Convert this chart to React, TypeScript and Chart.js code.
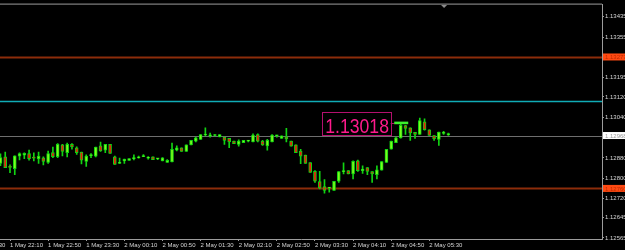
import React, { useEffect, useRef } from 'react';
import { Chart, registerables } from 'chart.js';

Chart.register(...registerables);

// M5 candles, bar index 0 = 1 May 22:10 (one bar every 5 minutes)
const firstBarIndex = -2;

const opens = [
  1.12858, 1.12884, 1.12845, 1.12838, 1.12887, 1.12891, 1.12897, 1.12883, 1.12876, 1.12880,
  1.12862, 1.12901, 1.12885, 1.12931, 1.12901, 1.12933, 1.12920, 1.12903, 1.12866, 1.12889,
  1.12887, 1.12927, 1.12910, 1.12933, 1.12884, 1.12858, 1.12868, 1.12870, 1.12877, 1.12880,
  1.12885, 1.12879, 1.12884, 1.12876, 1.12868, 1.12862, 1.12864, 1.12910, 1.12920, 1.12905,
  1.12931, 1.12946, 1.12953, 1.12970, 1.12967, 1.12968, 1.12963, 1.12962, 1.12957, 1.12946,
  1.12933, 1.12940, 1.12946, 1.12943, 1.12972, 1.12946, 1.12927, 1.12943, 1.12967, 1.12957,
  1.12963, 1.12946, 1.12931, 1.12907, 1.12891, 1.12862, 1.12827, 1.12787, 1.12767, 1.12761,
  1.12752, 1.12788, 1.12826, 1.12830, 1.12817, 1.12868, 1.12830, 1.12842, 1.12826, 1.12814,
  1.12832, 1.12862, 1.12914, 1.12940, 1.12959, 1.13007, 1.12998, 1.12981, 1.12972, 1.13022,
  1.12990, 1.12968, 1.12953, 1.12976, 1.12970,
];
const highs = [
  1.12896, 1.12903, 1.12853, 1.12888, 1.12900, 1.12900, 1.12911, 1.12900, 1.12903, 1.12884,
  1.12907, 1.12923, 1.12936, 1.12933, 1.12938, 1.12936, 1.12924, 1.12903, 1.12892, 1.12897,
  1.12923, 1.12942, 1.12933, 1.12933, 1.12887, 1.12879, 1.12875, 1.12877, 1.12892, 1.12887,
  1.12893, 1.12885, 1.12884, 1.12877, 1.12881, 1.12873, 1.12938, 1.12927, 1.12920, 1.12931,
  1.12949, 1.12962, 1.12972, 1.12998, 1.12978, 1.12972, 1.12972, 1.12962, 1.12957, 1.12946,
  1.12951, 1.12949, 1.12949, 1.12975, 1.12975, 1.12949, 1.12953, 1.12972, 1.12970, 1.12967,
  1.12996, 1.12946, 1.12931, 1.12914, 1.12891, 1.12862, 1.12830, 1.12827, 1.12795, 1.12762,
  1.12788, 1.12826, 1.12861, 1.12830, 1.12868, 1.12871, 1.12849, 1.12842, 1.12826, 1.12849,
  1.12866, 1.12914, 1.12946, 1.12962, 1.13018, 1.13008, 1.12998, 1.12981, 1.13037, 1.13034,
  1.12990, 1.12968, 1.12982, 1.12985, 1.12978,
];
const lows = [
  1.12849, 1.12842, 1.12822, 1.12814, 1.12872, 1.12877, 1.12871, 1.12868, 1.12858, 1.12852,
  1.12858, 1.12881, 1.12881, 1.12888, 1.12884, 1.12914, 1.12894, 1.12856, 1.12846, 1.12881,
  1.12884, 1.12905, 1.12901, 1.12898, 1.12854, 1.12858, 1.12858, 1.12870, 1.12872, 1.12879,
  1.12885, 1.12875, 1.12873, 1.12873, 1.12868, 1.12862, 1.12864, 1.12907, 1.12905, 1.12905,
  1.12931, 1.12943, 1.12953, 1.12966, 1.12962, 1.12966, 1.12963, 1.12933, 1.12920, 1.12936,
  1.12926, 1.12940, 1.12943, 1.12943, 1.12943, 1.12929, 1.12910, 1.12943, 1.12962, 1.12957,
  1.12943, 1.12926, 1.12901, 1.12857, 1.12858, 1.12823, 1.12784, 1.12758, 1.12741, 1.12745,
  1.12752, 1.12784, 1.12817, 1.12817, 1.12797, 1.12827, 1.12819, 1.12814, 1.12784, 1.12797,
  1.12832, 1.12862, 1.12914, 1.12940, 1.12958, 1.12972, 1.12949, 1.12957, 1.12972, 1.12989,
  1.12968, 1.12949, 1.12929, 1.12972, 1.12968,
];
const closes = [
  1.12881, 1.12842, 1.12843, 1.12888, 1.12897, 1.12898, 1.12877, 1.12879, 1.12887, 1.12866,
  1.12897, 1.12885, 1.12933, 1.12905, 1.12933, 1.12923, 1.12901, 1.12871, 1.12887, 1.12891,
  1.12923, 1.12907, 1.12933, 1.12898, 1.12854, 1.12863, 1.12875, 1.12877, 1.12879, 1.12883,
  1.12888, 1.12880, 1.12873, 1.12877, 1.12880, 1.12870, 1.12914, 1.12920, 1.12905, 1.12931,
  1.12949, 1.12959, 1.12972, 1.12972, 1.12968, 1.12970, 1.12972, 1.12949, 1.12943, 1.12936,
  1.12946, 1.12949, 1.12947, 1.12970, 1.12946, 1.12931, 1.12949, 1.12970, 1.12970, 1.12967,
  1.12955, 1.12926, 1.12901, 1.12887, 1.12858, 1.12823, 1.12788, 1.12762, 1.12752, 1.12762,
  1.12788, 1.12826, 1.12828, 1.12817, 1.12867, 1.12830, 1.12836, 1.12827, 1.12817, 1.12833,
  1.12866, 1.12914, 1.12946, 1.12959, 1.13008, 1.12996, 1.12978, 1.12972, 1.13027, 1.12991,
  1.12968, 1.12955, 1.12982, 1.12981, 1.12976,
];

// Time axis ticks (bar index -> label)
const xTickBars = [-8, 0, 8, 16, 24, 32, 40, 48, 56, 64, 72, 80, 88];
const xTickLabels = [
  '1 May 21:30', '1 May 22:10', '1 May 22:50', '1 May 23:30', '2 May 00:10', '2 May 00:50',
  '2 May 01:30', '2 May 02:10', '2 May 02:50', '2 May 03:30', '2 May 04:10', '2 May 04:50', '2 May 05:30',
];

// Price axis ticks
const yTicks = [1.13435, 1.13355, 1.13195, 1.1312, 1.1304, 1.1288, 1.128, 1.1272, 1.12645, 1.12565];

// Horizontal level lines
const levelPrices = [1.13277, 1.13102, 1.12968, 1.1276];
const levelColors = ['rgb(140,44,10)', 'rgb(16,172,182)', 'rgb(110,110,110)', 'rgb(140,44,10)'];
const levelWidths = [2, 1.6, 1, 2];
// Price tags on the axis
const tagPrices = [1.13277, 1.12968, 1.1276];
const tagBackgrounds = ['#ff4a12', '#ffffff', '#ff4a12'];
const tagTextColors = ['#c02a00', '#9a9a9a', '#c02a00'];

// Highest-high text label
const highLabelBar = 82;
const highLabelPrice = 1.13018;

const AXIS_FONT = { family: '"Liberation Sans", Arial, sans-serif', size: 6 };
const AXIS_TEXT = '#d6d6d6';
const FRAME = '#9c9c9c';
const BULL_FILL = '#7cfc1c';
const BEAR_FILL = '#f01a0a';
const CANDLE_LINE = '#12d412';

const mt4Plugin = {
  id: 'mt4',
  beforeDatasetsDraw(chart: any) {
    const { ctx, chartArea: a, scales } = chart;
    const y = scales.y;
    ctx.save();
    levelPrices.forEach((p, i) => {
      const py = Math.round(y.getPixelForValue(p)) + 0.5;
      ctx.strokeStyle = levelColors[i];
      ctx.lineWidth = levelWidths[i];
      ctx.beginPath();
      ctx.moveTo(a.left, py);
      ctx.lineTo(a.right, py);
      ctx.stroke();
    });
    ctx.restore();
  },
  afterDraw(chart: any) {
    const { ctx, chartArea: a, scales, width } = chart;
    const x = scales.x;
    const y = scales.y;
    ctx.save();
    // top frame line
    ctx.strokeStyle = FRAME;
    ctx.lineWidth = 1;
    ctx.beginPath();
    ctx.moveTo(a.left, a.top - 0.5);
    ctx.lineTo(a.right, a.top - 0.5);
    ctx.stroke();

    // chart shift marker
    const sx = x.getPixelForValue(91.1);
    ctx.fillStyle = '#8a8a8a';
    ctx.beginPath();
    ctx.moveTo(sx - 3, a.top + 0.5);
    ctx.lineTo(sx + 3, a.top + 0.5);
    ctx.lineTo(sx, a.top + 3.5);
    ctx.closePath();
    ctx.fill();

    // price tags on the axis
    ctx.font = `${AXIS_FONT.size}px ${AXIS_FONT.family}`;
    ctx.textBaseline = 'middle';
    ctx.textAlign = 'left';
    tagPrices.forEach((p, i) => {
      const py = y.getPixelForValue(p);
      ctx.fillStyle = tagBackgrounds[i];
      ctx.fillRect(a.right + 1, py - 3.5, width - a.right - 1, 7);
      ctx.fillStyle = tagTextColors[i];
      ctx.fillText(p.toFixed(5), a.right + 3, py + 0.5);
    });

    // partially visible first time label
    xTickBars.forEach((b, i) => {
      if (b < x.min) {
        const px = x.getPixelForValue(b);
        ctx.strokeStyle = FRAME;
        ctx.beginPath();
        ctx.moveTo(Math.round(px) + 0.5, a.bottom);
        ctx.lineTo(Math.round(px) + 0.5, a.bottom + 2);
        ctx.stroke();
        ctx.fillStyle = AXIS_TEXT;
        ctx.fillText(xTickLabels[i], px + 0.5, a.bottom + 6);
      }
    });

    // highest price label
    const hx = x.getPixelForValue(highLabelBar);
    const hy = y.getPixelForValue(highLabelPrice);
    const boxR = hx - 10;
    const boxL = boxR - 68.5;
    const boxT = hy - 11;
    const boxB = hy + 12.3;
    ctx.strokeStyle = '#b3106e';
    ctx.lineWidth = 1;
    ctx.strokeRect(Math.round(boxL) + 0.5, Math.round(boxT) + 0.5, Math.round(boxR - boxL), Math.round(boxB - boxT));
    ctx.beginPath();
    ctx.moveTo(boxR, Math.round(hy) + 0.5);
    ctx.lineTo(hx - 6, Math.round(hy) + 0.5);
    ctx.stroke();
    ctx.fillStyle = '#ff1a8c';
    ctx.font = '21px "Liberation Sans", Arial, sans-serif';
    ctx.textBaseline = 'alphabetic';
    ctx.save();
    ctx.translate(boxL + 3, boxB - 2.3);
    ctx.scale(0.84, 1);
    ctx.fillText(highLabelPrice.toFixed(5), 0, 0);
    ctx.restore();
    // green marker bar at the high
    ctx.fillStyle = '#3cf02c';
    ctx.fillRect(hx - 6.5, hy - 1.2, 14, 2.6);
    ctx.restore();
  },
};

export default function App() {
  const canvasRef = useRef<HTMLCanvasElement | null>(null);

  useEffect(() => {
    const canvas = canvasRef.current;
    if (!canvas) return;
    const bars = opens.map((_, i) => firstBarIndex + i);
    const wickData = bars.map((b, i) => ({ x: b, y: [lows[i], highs[i]] }));
    const bodyData = bars.map((b, i) => ({
      x: b,
      y: [Math.min(opens[i], closes[i]), Math.max(opens[i], closes[i])],
    }));
    const bodyColors = opens.map((o, i) => (closes[i] >= o ? BULL_FILL : BEAR_FILL));

    const chart = new Chart(canvas, {
      type: 'bar',
      data: {
        datasets: [
          {
            label: 'body',
            data: bodyData as any,
            backgroundColor: bodyColors,
            borderColor: CANDLE_LINE,
            borderWidth: 1,
            borderSkipped: false,
            barThickness: 3,
            minBarLength: 1,
            grouped: false,
            order: 1,
          } as any,
          {
            label: 'wick',
            data: wickData as any,
            backgroundColor: CANDLE_LINE,
            borderWidth: 0,
            barThickness: 1,
            minBarLength: 1,
            grouped: false,
            order: 2,
          } as any,
        ],
      },
      options: {
        animation: false,
        responsive: false,
        devicePixelRatio: 1,
        layout: { padding: { top: 2, left: 0, right: 0, bottom: 0 } },
        plugins: { legend: { display: false }, tooltip: { enabled: false } },
        scales: {
          x: {
            type: 'linear',
            min: -2.099,
            max: 124.24,
            offset: false,
            afterBuildTicks: (s: any) => {
              s.ticks = xTickBars.filter((v) => v >= s.min && v <= s.max).map((v) => ({ value: v }));
            },
            afterFit: (s: any) => {
              s.height = 11;
            },
            ticks: {
              autoSkip: false,
              maxRotation: 0,
              minRotation: 0,
              align: 'start',
              padding: 1,
              color: AXIS_TEXT,
              font: AXIS_FONT,
              callback: (v: any) => {
                const i = xTickBars.indexOf(Number(v));
                return i >= 0 ? xTickLabels[i] : '';
              },
            },
            grid: { display: true, drawOnChartArea: false, drawTicks: true, tickLength: 2, color: FRAME, offset: false },
            border: { display: true, color: FRAME },
          } as any,
          y: {
            type: 'linear',
            position: 'right',
            min: 1.12561,
            max: 1.13483,
            beginAtZero: false,
            afterBuildTicks: (s: any) => {
              s.ticks = yTicks.map((v) => ({ value: v }));
            },
            afterFit: (s: any) => {
              s.width = 23;
            },
            ticks: {
              padding: 1,
              color: AXIS_TEXT,
              font: AXIS_FONT,
              callback: (v: any) => Number(v).toFixed(5),
            },
            grid: { display: true, drawOnChartArea: false, drawTicks: true, tickLength: 2, color: FRAME },
            border: { display: true, color: FRAME },
          } as any,
        },
      },
      plugins: [mt4Plugin],
    });
    return () => chart.destroy();
  }, []);

  return (
    <div style={{ position: 'absolute', left: 0, top: 0, width: 625, height: 250, background: '#000' }}>
      <canvas ref={canvasRef} width={625} height={250} style={{ width: 625, height: 250, display: 'block' }} />
    </div>
  );
}
